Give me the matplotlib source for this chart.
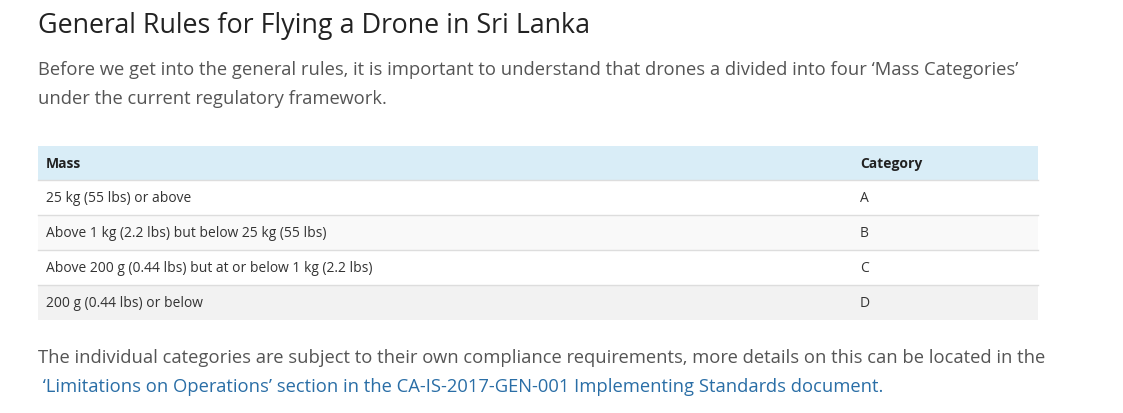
import matplotlib
matplotlib.use("Agg")
import matplotlib.pyplot as plt
from matplotlib.patches import Rectangle

title = "General Rules for Flying a Drone in Sri Lanka"
intro = ["Before we get into the general rules, it is important to understand that drones a divided into four \u2018Mass Categories\u2019",
         "under the current regulatory framework."]
headers = ["Mass", "Category"]
masses = ["25 kg (55 lbs) or above",
          "Above 1 kg (2.2 lbs) but below 25 kg (55 lbs)",
          "Above 200 g (0.44 lbs) but at or below 1 kg (2.2 lbs)",
          "200 g (0.44 lbs) or below"]
categories = ["A", "B", "C", "D"]
outro = ["The individual categories are subject to their own compliance requirements, more details on this can be located in the",
         " \u2018Limitations on Operations\u2019 section in the CA-IS-2017-GEN-001 Implementing Standards document."]

W, H = 1123, 413
fig = plt.figure(figsize=(W/100, H/100), dpi=100)
ax = fig.add_axes([0, 0, 1, 1])
ax.set_xlim(0, W); ax.set_ylim(H, 0); ax.axis("off")
F = "Open Sans"

ax.text(38, 26, title, fontsize=19.4, family=F, color="#222222", va="center")
for i, l in enumerate(intro):
    ax.text(38, 70 + 29*i, l, fontsize=13.2, family=F, color="#555555", va="center")

x0, x1 = 38, 1038
ax.add_patch(Rectangle((x0, 146), x1-x0, 34, color="#d9edf7", lw=0))
ax.text(46, 164, headers[0], fontsize=10, family=F, weight="bold", color="#222222", va="center")
ax.text(860, 164, headers[1], fontsize=10, family=F, weight="bold", color="#222222", va="center")
bgs = ["#ffffff", "#f9f9f9", "#ffffff", "#f2f2f2"]
for i, (m, c) in enumerate(zip(masses, categories)):
    top = 180 + 35*i
    ax.add_patch(Rectangle((x0, top), x1-x0, 35, color=bgs[i], lw=0))
    ax.plot([x0, x1], [top, top], color="#dddddd", lw=1)
    ax.text(46, top+18.5, m, fontsize=10, family=F, color="#333333", va="center")
    ax.text(860, top+18.5, c, fontsize=10, family=F, color="#333333", va="center")

ax.text(38, 358, outro[0], fontsize=13.2, family=F, color="#555555", va="center")
ax.text(38, 387, outro[1], fontsize=13.2, family=F, color="#2a6ea6", va="center")
fig.savefig("out.png", dpi=100)
